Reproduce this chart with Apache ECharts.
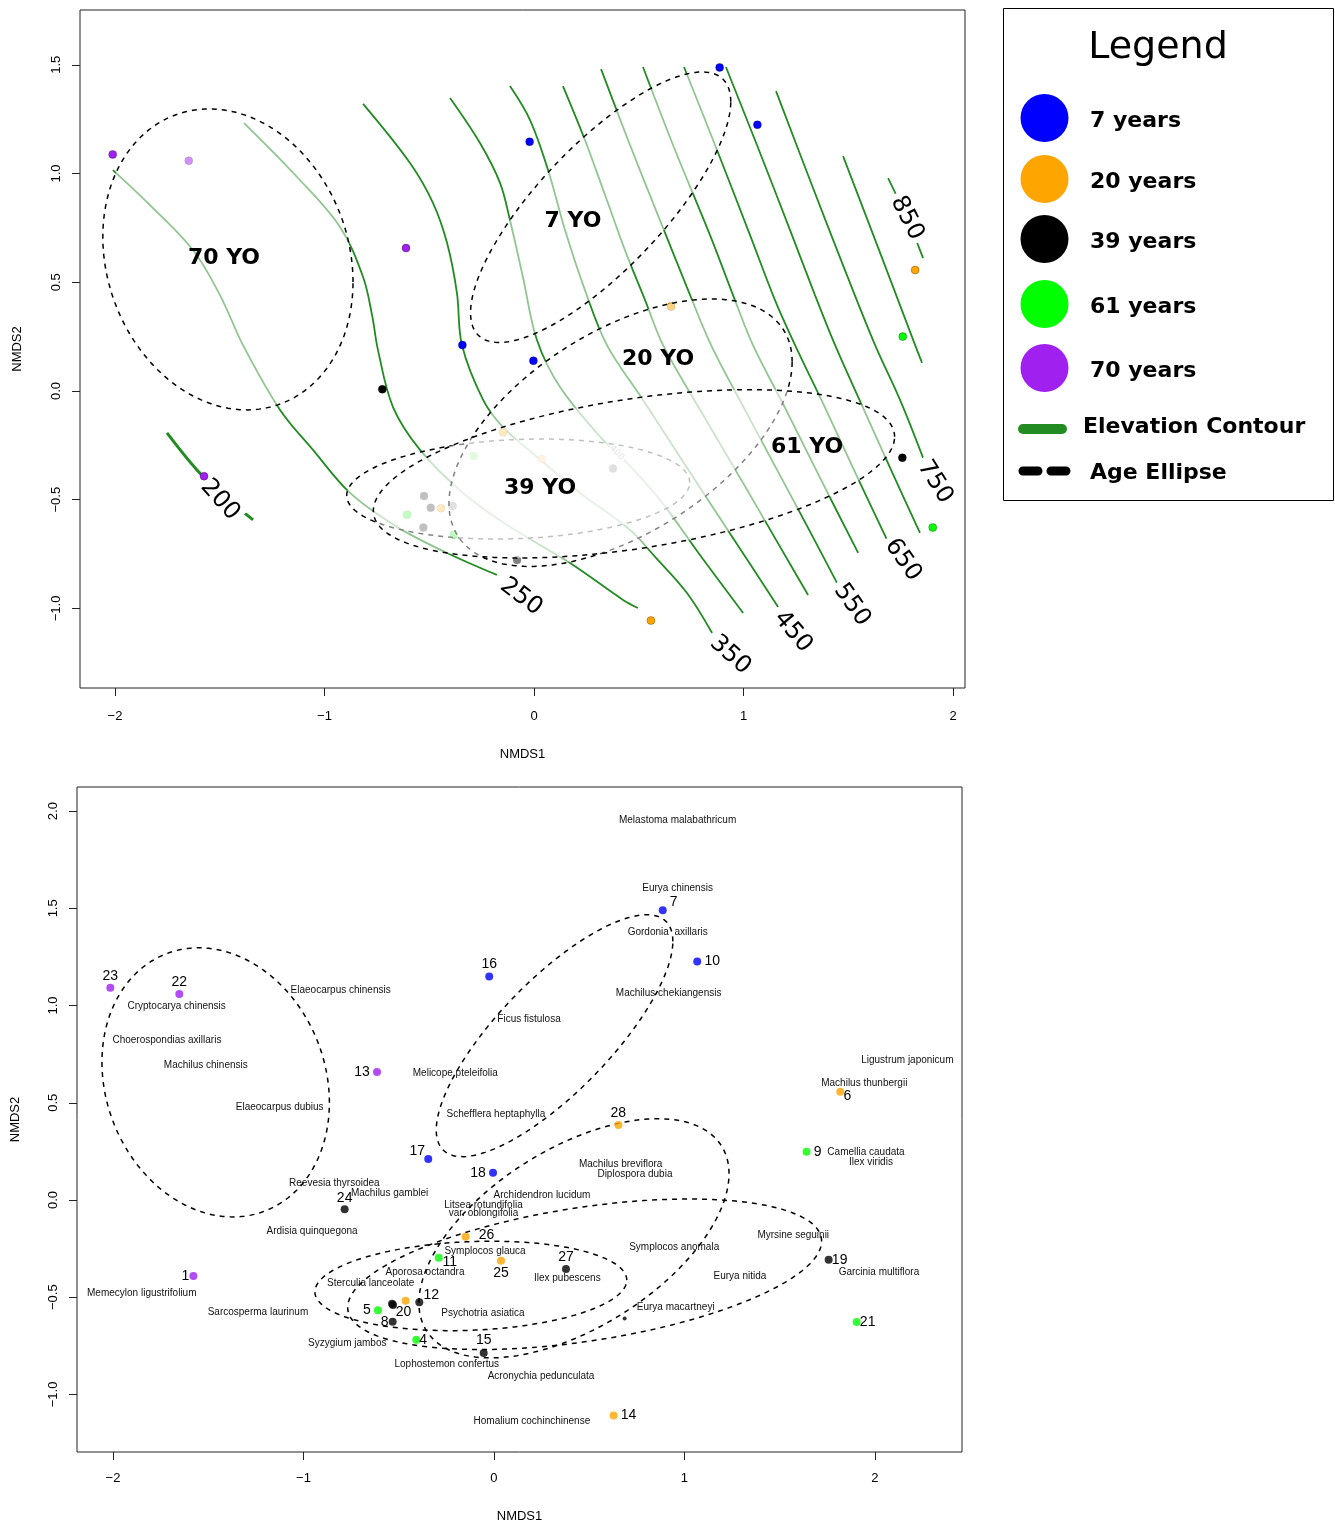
<!DOCTYPE html>
<html>
<head>
<meta charset="utf-8">
<script src="https://cdn.jsdelivr.net/npm/echarts@6/dist/echarts.min.js"></script>
<style>
html,body{margin:0;padding:0;background:#fff}
#main{width:1335px;height:1526px}
</style>
</head>
<body>
<div id="main"></div>
<script>
// ---- stand ages and colours ----
const ageGroups = [7, 20, 39, 61, 70];
const ageColors = ['#0000FF', '#FFA500', '#000000', '#00FF00', '#A020F0'];

// ---- sites ----
const siteIds = [1,2,3,4,5,6,7,8,9,10,11,12,13,14,15,16,17,18,19,20,21,22,23,24,25,26,27,28];
const siteAge = [70,39,39,61,61,20,7,39,61,7,61,39,70,20,39,7,7,7,39,20,61,70,70,39,20,20,39,20];

// site scores on the elevation panel
const elevX = [-1.575,-0.525,-0.493,-0.383,-0.606,1.819,0.886,-0.528,1.760,1.066,-0.288,-0.388,-0.611,0.558,-0.081,-0.021,-0.342,-0.003,1.758,-0.444,1.903,-1.648,-2.011,-0.724,0.038,-0.148,0.377,0.654];
const elevY = [-0.392,-0.483,-0.537,-0.661,-0.569,0.556,1.488,-0.628,0.250,1.224,-0.299,-0.529,0.657,-1.056,-0.777,1.146,0.211,0.139,-0.307,-0.539,-0.628,1.059,1.088,0.008,-0.313,-0.190,-0.357,0.388];

// site scores on the species panel
const sppSiteX = [-1.578,-0.535,-0.530,-0.408,-0.609,1.818,0.886,-0.532,1.641,1.067,-0.290,-0.392,-0.614,0.628,-0.054,-0.025,-0.345,-0.005,1.757,-0.464,1.904,-1.652,-2.014,-0.784,0.037,-0.149,0.378,0.653];
const sppSiteY = [-0.391,-0.533,-0.540,-0.719,-0.567,0.557,1.490,-0.626,0.248,1.226,-0.297,-0.526,0.658,-1.108,-0.787,1.149,0.211,0.140,-0.307,-0.518,-0.628,1.060,1.091,-0.048,-0.312,-0.189,-0.355,0.386];

// ---- elevation contours (m) ----
const contourLevels = [200,250,300,350,400,450,500,550,600,650,700,750,800,850];
const contourPaths = [
  [[-1.752,-0.193],[-1.609,-0.363],[-1.489,-0.474],[-1.341,-0.593]],
  [[-2.010,1.016],[-1.833,0.855],[-1.628,0.648],[-1.499,0.441],[-1.389,0.211],[-1.212,-0.087],[-1.055,-0.271],[-0.878,-0.469],[-0.654,-0.625],[-0.415,-0.745],[-0.177,-0.846]],
  [[-1.384,1.232],[-1.131,0.984],[-0.926,0.754],[-0.816,0.524],[-0.773,0.349],[-0.745,0.189],[-0.673,-0.074],[-0.544,-0.271],[-0.339,-0.469],[-0.115,-0.625],[0.172,-0.791],[0.425,-0.961],[0.496,-0.998]],
  [[-0.816,1.320],[-0.592,1.048],[-0.482,0.864],[-0.415,0.680],[-0.368,0.451],[-0.344,0.211],[-0.243,-0.041],[-0.148,-0.166],[0.014,-0.303],[0.220,-0.469],[0.458,-0.639],[0.578,-0.763],[0.730,-0.929],[0.850,-1.113]],
  [[-0.401,1.347],[-0.258,1.140],[-0.162,0.956],[-0.115,0.786],[-0.053,0.524],[0.014,0.234],[0.124,0.018],[0.329,-0.225],[0.444,-0.331],[0.601,-0.501],[0.792,-0.754],[0.998,-1.021]],
  [[-0.115,1.402],[-0.019,1.246],[0.067,1.016],[0.148,0.740],[0.243,0.464],[0.348,0.211],[0.520,-0.041],[0.706,-0.317],[0.940,-0.662],[1.165,-0.993]],
  [[0.138,1.402],[0.243,1.154],[0.339,0.901],[0.434,0.648],[0.530,0.418],[0.616,0.211],[0.821,-0.133],[1.017,-0.455],[1.169,-0.708],[1.308,-0.938]],
  [[0.320,1.480],[0.458,1.131],[0.601,0.786],[0.745,0.441],[0.845,0.211],[1.007,-0.087],[1.160,-0.363],[1.313,-0.639],[1.451,-0.892]],
  [[0.520,1.490],[0.673,1.108],[0.840,0.717],[0.959,0.418],[1.045,0.211],[1.203,-0.087],[1.370,-0.409],[1.547,-0.745]],
  [[0.716,1.490],[0.864,1.131],[1.031,0.717],[1.150,0.418],[1.246,0.211],[1.394,-0.087],[1.527,-0.363],[1.685,-0.685]],
  [[0.916,1.490],[1.064,1.131],[1.222,0.740],[1.341,0.441],[1.437,0.211],[1.575,-0.087],[1.704,-0.363],[1.842,-0.653]],
  [[1.155,1.379],[1.317,0.970],[1.484,0.556],[1.628,0.211],[1.747,-0.041],[1.857,-0.308]],
  [[1.475,1.080],[1.656,0.625],[1.819,0.211],[1.852,0.129]],
  [[1.690,0.979],[1.780,0.795],[1.857,0.611]]
];
// contour label anchors
const contourLabelText = ['200','250','350','400','450','550','650','750','850'];
const contourLabelX = [-1.499,-0.062,0.936,0.396,1.236,1.518,1.761,1.914,1.780];
const contourLabelY = [-0.501,-0.947,-1.214,-0.285,-1.108,-0.984,-0.777,-0.418,0.795];
const contourLabelAngle = [48,37,42,45,50,55,55,58,63];

// ---- age ellipses: [centre x, centre y, half-width, half-height, correlation] ----
const ellipseNames = ['39 YO','20 YO','61 YO','70 YO','7 YO'];
const ellipsesElev = [
  [-0.0755,-0.451,0.8185,0.23,0.13],
  [0.413,-0.192,0.819,0.615,0.53],
  [0.477,-0.381,1.244,0.387,0.44],
  [-1.461,0.605,0.597,0.692,-0.15],
  [0.318,0.845,0.621,0.622,0.78]
];
const ellipsesSpp = [
  [-0.1215,-0.442,0.8185,0.23,0.13],
  [0.42,-0.197,0.814,0.615,0.54],
  [0.476,-0.382,1.244,0.387,0.44],
  [-1.461,0.605,0.597,0.692,-0.15],
  [0.318,0.845,0.621,0.622,0.78]
];
const ellipseLabelX = [0.029,0.592,1.303,-1.480,0.186];
const ellipseLabelY = [-0.446,0.147,-0.257,0.611,0.782];

// ---- species scores ----
const speciesNames = ['Melastoma malabathricum','Eurya chinensis','Gordonia  axillaris','Machilus chekiangensis','Ficus fistulosa','Elaeocarpus chinensis','Cryptocarya chinensis','Choerospondias axillaris','Machilus chinensis','Elaeocarpus dubius','Melicope pteleifolia','Schefflera heptaphylla','Ligustrum japonicum','Machilus thunbergii','Machilus breviflora','Diplospora dubia','Camellia caudata','Ilex viridis','Reevesia thyrsoidea','Machilus gamblei','Archidendron lucidum','Litsea rotundifolia\nvar. oblongifolia','Ardisia quinquegona','Myrsine seguinii','Symplocos glauca','Symplocos anomala','Aporosa octandra','Ilex pubescens','Sterculia lanceolate','Eurya nitida','Garcinia multiflora','Memecylon ligustrifolium','Sarcosperma laurinum','Psychotria asiatica','Eurya macartneyi','Syzygium jambos','Lophostemon confertus','Acronychia pedunculata','Homalium cochinchinense'];
const speciesX = [0.964,0.964,0.912,0.917,0.184,-0.805,-1.666,-1.717,-1.513,-1.125,-0.203,0.010,2.170,1.944,0.665,0.740,1.953,1.979,-0.838,-0.548,0.252,-0.055,-0.955,1.571,-0.047,0.946,-0.362,0.385,-0.647,1.291,2.021,-1.849,-1.239,-0.058,0.954,-0.770,-0.248,0.247,0.199];
const speciesY = [1.955,1.603,1.375,1.063,0.931,1.080,0.999,0.823,0.691,0.475,0.652,0.442,0.719,0.603,0.184,0.132,0.245,0.192,0.086,0.036,0.027,-0.049,-0.159,-0.180,-0.266,-0.242,-0.374,-0.401,-0.428,-0.391,-0.372,-0.482,-0.575,-0.581,-0.549,-0.739,-0.845,-0.905,-1.137];
const speciesDot = [[0.686,-0.609]];

// site number placement around each point (px)
const siteLabelShift = [[-8,0],null,null,[7,0],[-11,0],[7,4],[11,-8],[-8,0],[11,0],[15,0],[11,4],[12,-7],[-15,0],[15,0],[0,-13],[0,-12],[-11,-8],[-15,0],[11,0],[-2,11],[11,0],[0,-12],[0,-12],[0,-11],[0,12],[21,-2],[0,-12],[0,-12]];

const ticksX = [-2,-1,0,1,2];
const ticksYTop = [-1,-0.5,0,0.5,1,1.5];
const ticksYBot = [-1,-0.5,0,0.5,1,1.5,2];

// ---------------------------------------------------------------
const CONTOUR_GREEN = '#228B22';
const AXIS_FONT = '"Liberation Sans", Arial, sans-serif';
const minus = s => String(s).replace('-', '\u2212');

function ellipsePolygon(e, api) {
  const [cx, cy, sx, sy, r] = e;
  const q = Math.sqrt(1 - r * r);
  const pts = [];
  for (let i = 0; i < 200; i++) {
    const t = i / 200 * Math.PI * 2;
    const c = Math.cos(t), s = Math.sin(t);
    pts.push(api.coord([cx + sx * c, cy + sy * (r * c + q * s)]));
  }
  return pts;
}

function xAxisCfg(grid, min, max, nameGap, labelMargin) {
  return {
    gridIndex: grid, type: 'value', min: min, max: max,
    splitLine: {show: false},
    axisLine: {show: false, onZero: false},
    axisTick: {show: true, customValues: ticksX, length: 8, lineStyle: {color: '#222', width: 1}},
    axisLabel: {customValues: ticksX, formatter: v => minus(v), margin: labelMargin, color: '#000', fontSize: 13, fontFamily: AXIS_FONT},
    name: 'NMDS1', nameLocation: 'middle', nameGap: nameGap,
    nameTextStyle: {color: '#000', fontSize: 13, fontFamily: AXIS_FONT}
  };
}
function yAxisCfg(grid, min, max, ticks, nameGap) {
  return {
    gridIndex: grid, type: 'value', min: min, max: max,
    splitLine: {show: false},
    axisLine: {show: false, onZero: false},
    axisTick: {show: true, customValues: ticks, length: 8, lineStyle: {color: '#222', width: 1}},
    axisLabel: {customValues: ticks, rotate: 90, formatter: v => minus(v.toFixed(1)), margin: 17, color: '#000', fontSize: 13, fontFamily: AXIS_FONT},
    name: 'NMDS2', nameLocation: 'middle', nameGap: nameGap, nameRotate: 90,
    nameTextStyle: {color: '#000', fontSize: 13, fontFamily: AXIS_FONT}
  };
}

const series = [];

// elevation contours
contourPaths.forEach((path, i) => {
  series.push({
    type: 'line', name: 'contour ' + contourLevels[i], xAxisIndex: 0, yAxisIndex: 0,
    data: path, smooth: 0.35, showSymbol: false, silent: true, z: 1,
    lineStyle: {color: CONTOUR_GREEN, width: contourLevels[i] === 200 ? 3 : 1.8}
  });
});

// contour labels
series.push({
  type: 'custom', xAxisIndex: 0, yAxisIndex: 0, z: 2, silent: true,
  data: contourLabelX.map((x, i) => [x, contourLabelY[i]]),
  renderItem: (params, api) => {
    const i = params.dataIndex;
    const p = api.coord([api.value(0), api.value(1)]);
    const small = contourLabelText[i] === '400';
    return {
      type: 'text', x: p[0], y: p[1], rotation: -contourLabelAngle[i] * Math.PI / 180,
      style: {
        text: contourLabelText[i], font: (small ? '9px' : '24px') + ' "DejaVu Sans", sans-serif',
        fill: '#000', align: 'center', verticalAlign: 'middle',
        backgroundColor: '#fff', padding: small ? [0, 1] : [0, 4]
      }
    };
  }
});

// sites, elevation panel
ageGroups.forEach((age, g) => {
  const pts = [];
  siteAge.forEach((a, i) => { if (a === age) pts.push([elevX[i], elevY[i], siteIds[i]]); });
  series.push({
    type: 'scatter', xAxisIndex: 0, yAxisIndex: 0, z: 3, silent: true,
    data: pts, symbolSize: 8,
    itemStyle: {color: ageColors[g], borderColor: 'rgba(0,0,0,0.45)', borderWidth: 0.6, opacity: 1}
  });
});

// age ellipses, elevation panel (translucent white wash, drawn in order)
series.push({
  type: 'custom', xAxisIndex: 0, yAxisIndex: 0, z: 4, silent: true,
  data: ellipsesElev.map((e, i) => [e[0], e[1], i]),
  renderItem: (params, api) => ({
    type: 'polygon', z2: params.dataIndex,
    shape: {points: ellipsePolygon(ellipsesElev[params.dataIndex], api)},
    style: {fill: 'rgba(255,255,255,0.5)', stroke: '#000', lineWidth: 1.5, lineDash: [5, 5]}
  })
});

// ellipse labels
series.push({
  type: 'custom', xAxisIndex: 0, yAxisIndex: 0, z: 5, silent: true,
  data: ellipseLabelX.map((x, i) => [x, ellipseLabelY[i]]),
  renderItem: (params, api) => {
    const p = api.coord([api.value(0), api.value(1)]);
    return {
      type: 'text', x: p[0], y: p[1],
      style: {text: ellipseNames[params.dataIndex], font: 'bold 22px "DejaVu Sans", sans-serif', fill: '#000', align: 'center', verticalAlign: 'middle'}
    };
  }
});

// age ellipses, species panel
series.push({
  type: 'custom', xAxisIndex: 1, yAxisIndex: 1, z: 2, silent: true,
  data: ellipsesSpp.map((e, i) => [e[0], e[1], i]),
  renderItem: (params, api) => ({
    type: 'polygon',
    shape: {points: ellipsePolygon(ellipsesSpp[params.dataIndex], api)},
    style: {fill: 'none', stroke: '#000', lineWidth: 1.5, lineDash: [5, 5]}
  })
});

// sites, species panel
ageGroups.forEach((age, g) => {
  const pts = [];
  siteAge.forEach((a, i) => { if (a === age) pts.push([sppSiteX[i], sppSiteY[i], siteIds[i]]); });
  series.push({
    type: 'scatter', xAxisIndex: 1, yAxisIndex: 1, z: 3, silent: true,
    data: pts, symbolSize: 8, itemStyle: {color: ageColors[g]}
  });
});
series.push({
  type: 'scatter', xAxisIndex: 1, yAxisIndex: 1, z: 3, silent: true,
  data: speciesDot, symbolSize: 4, itemStyle: {color: '#000'}
});

// site numbers
series.push({
  type: 'custom', xAxisIndex: 1, yAxisIndex: 1, z: 4, silent: true,
  data: sppSiteX.map((x, i) => [x, sppSiteY[i]]),
  renderItem: (params, api) => {
    const i = params.dataIndex;
    const shift = siteLabelShift[i];
    if (!shift) return null;
    const p = api.coord([api.value(0), api.value(1)]);
    return {
      type: 'text', x: p[0] + shift[0], y: p[1] + shift[1],
      style: {text: String(siteIds[i]), font: '14px ' + AXIS_FONT, fill: '#000', align: 'center', verticalAlign: 'middle'}
    };
  }
});

// species names
series.push({
  type: 'custom', xAxisIndex: 1, yAxisIndex: 1, z: 4, silent: true,
  data: speciesX.map((x, i) => [x, speciesY[i]]),
  renderItem: (params, api) => {
    const p = api.coord([api.value(0), api.value(1)]);
    return {
      type: 'text', x: p[0], y: p[1],
      style: {text: speciesNames[params.dataIndex], font: '10px ' + AXIS_FONT, fill: '#111', align: 'center', verticalAlign: 'middle', lineHeight: 8}
    };
  }
});

// legend box
const legendItems = [];
const legendRowY = [118, 179, 239, 304, 368];
ageGroups.forEach((age, g) => {
  legendItems.push({type: 'circle', shape: {cx: 1044.5, cy: legendRowY[g], r: 24}, style: {fill: ageColors[g]}});
  legendItems.push({type: 'text', x: 1090, y: legendRowY[g] + 3, style: {text: age + ' years', font: 'bold 22px "DejaVu Sans", sans-serif', fill: '#000', verticalAlign: 'middle'}});
});

const option = {
  backgroundColor: '#fff',
  animation: false,
  grid: [
    {left: 80, top: 10, width: 885, height: 678, show: true, borderColor: '#222', borderWidth: 1, backgroundColor: 'transparent'},
    {left: 77, top: 787, width: 885, height: 665, show: true, borderColor: '#222', borderWidth: 1, backgroundColor: 'transparent'}
  ],
  xAxis: [xAxisCfg(0, -2.167, 2.057, 60, 22), xAxisCfg(1, -2.189, 2.457, 58, 20)],
  yAxis: [yAxisCfg(0, -1.366, 1.752, ticksYTop, 56), yAxisCfg(1, -1.296, 2.124, ticksYBot, 55)],
  series: series,
  graphic: [
    {type: 'rect', shape: {x: 1003.5, y: 8.5, width: 330, height: 492}, style: {fill: '#fff', stroke: '#000', lineWidth: 1}},
    {type: 'text', x: 1158, y: 48, style: {text: 'Legend', font: '38px "DejaVu Sans", sans-serif', fill: '#000', align: 'center', verticalAlign: 'middle'}},
    ...legendItems,
    {type: 'line', shape: {x1: 1023, y1: 429, x2: 1062, y2: 429}, style: {stroke: CONTOUR_GREEN, lineWidth: 10, lineCap: 'round'}},
    {type: 'text', x: 1083, y: 427, style: {text: 'Elevation Contour', font: 'bold 22px "DejaVu Sans", sans-serif', fill: '#000', verticalAlign: 'middle'}},
    {type: 'line', shape: {x1: 1023, y1: 471, x2: 1067, y2: 471}, style: {stroke: '#000', lineWidth: 9, lineCap: 'round', lineDash: [15, 13]}},
    {type: 'text', x: 1090, y: 473, style: {text: 'Age Ellipse', font: 'bold 22px "DejaVu Sans", sans-serif', fill: '#000', verticalAlign: 'middle'}}
  ]
};

const chart = echarts.init(document.getElementById('main'), null, {renderer: 'canvas'});
chart.setOption(option);
</script>
</body>
</html>
